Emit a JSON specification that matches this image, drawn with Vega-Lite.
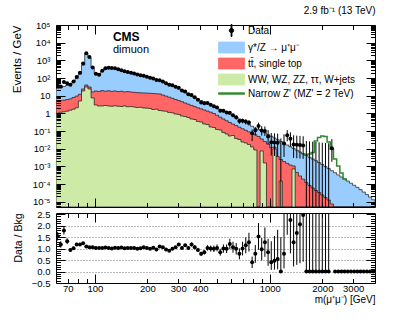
{
"$schema": "https://vega.github.io/schema/vega-lite/v6.json",
"background": "white",
"padding": {"left": 10, "top": 5, "right": 0, "bottom": 0},
"config": {
  "font": "Liberation Sans",
  "view": {"stroke": "black", "strokeWidth": 1},
  "axis": {"domain": false, "grid": false, "tickColor": "black", "tickWidth": 1, "labelColor": "black", "titleColor": "black", "labelFontSize": 9.5, "titleFontSize": 11, "titleFontWeight": "normal", "labelFont": "Liberation Sans", "titleFont": "Liberation Sans"},
  "title": {"font": "Liberation Sans"}
},
"datasets": {"h": [
{"lo":60,"c":61.3,"bk":25.2,"tt":5.13,"ew":1.01,"d":38.8,"r":1.54,"rl":1.35,"rh":1.73},
{"lo":62.57,"c":63.9,"bk":27.9,"tt":5.34,"ew":1.15,"d":32.9,"r":1.18,"rl":1.04,"rh":1.32},
{"lo":65.26,"c":66.6,"bk":33.5,"tt":5.55,"ew":1.22,"d":60.0,"r":1.79,"rl":1.61,"rh":1.97},
{"lo":68.06,"c":69.5,"bk":37.7,"tt":6.0,"ew":1.32,"d":49.8,"r":1.32,"rl":1.19,"rh":1.45},
{"lo":70.98,"c":72.5,"bk":44.7,"tt":6.58,"ew":1.51,"d":42.0,"r":0.94,"rl":0.86,"rh":1.02},
{"lo":74.02,"c":75.6,"bk":63.5,"tt":7.89,"ew":1.72,"d":64.1,"r":1.01,"rl":0.94,"rh":1.08},
{"lo":77.19,"c":78.8,"bk":96.4,"tt":9.47,"ew":2.06,"d":114,"r":1.18,"rl":1.11,"rh":1.25},
{"lo":80.5,"c":82.2,"bk":166,"tt":12.0,"ew":5.0,"d":196,"r":1.18,"rl":1.13,"rh":1.23},
{"lo":83.96,"c":85.7,"bk":545,"tt":24,"ew":18.4,"d":670,"r":1.23,"rl":1.2,"rh":1.26},
{"lo":87.56,"c":89.4,"bk":2290,"tt":40.2,"ew":31.0,"d":2500,"r":1.09,"rl":1.08,"rh":1.1},
{"lo":91.31,"c":93.2,"bk":1450,"tt":31.0,"ew":23.9,"d":1540,"r":1.06,"rl":1.045,"rh":1.075},
{"lo":95.23,"c":97.2,"bk":369,"tt":16.2,"ew":7.39,"d":391,"r":1.06,"rl":1.03,"rh":1.09},
{"lo":99.31,"c":101.4,"bk":169,"tt":18.4,"ew":2.97,"d":174,"r":1.03,"rl":0.99,"rh":1.07},
{"lo":103.57,"c":105.8,"bk":148,"tt":17.3,"ew":2.61,"d":152,"r":1.03,"rl":0.99,"rh":1.07},
{"lo":108.01,"c":110.3,"bk":250,"tt":19.4,"ew":2.61,"d":255,"r":1.02,"rl":0.99,"rh":1.05},
{"lo":112.64,"c":115.0,"bk":345,"tt":17.9,"ew":2.78,"d":362,"r":1.05,"rl":1.025,"rh":1.075},
{"lo":117.47,"c":120.0,"bk":369,"tt":18.9,"ew":2.61,"d":380,"r":1.03,"rl":1.005,"rh":1.055},
{"lo":122.51,"c":125.1,"bk":369,"tt":17.5,"ew":2.51,"d":369,"r":1.0,"rl":0.975,"rh":1.025},
{"lo":127.76,"c":130.5,"bk":341,"tt":18.4,"ew":2.67,"d":355,"r":1.04,"rl":1.015,"rh":1.065},
{"lo":133.24,"c":136.1,"bk":307,"tt":17.0,"ew":2.54,"d":313,"r":1.02,"rl":0.995,"rh":1.045},
{"lo":138.95,"c":141.9,"bk":266,"tt":17.7,"ew":2.44,"d":279,"r":1.05,"rl":1.025,"rh":1.075},
{"lo":144.91,"c":148.0,"bk":237,"tt":16.4,"ew":2.61,"d":239,"r":1.01,"rl":0.985,"rh":1.035},
{"lo":151.12,"c":154.3,"bk":213,"tt":17.0,"ew":2.35,"d":219,"r":1.03,"rl":1.005,"rh":1.055},
{"lo":157.6,"c":160.9,"bk":195,"tt":16.2,"ew":2.41,"d":201,"r":1.03,"rl":1.0,"rh":1.06},
{"lo":164.36,"c":167.8,"bk":175,"tt":15.5,"ew":2.29,"d":179,"r":1.02,"rl":0.99,"rh":1.05},
{"lo":171.41,"c":175.0,"bk":160,"tt":14.9,"ew":2.14,"d":158,"r":0.99,"rl":0.96,"rh":1.02},
{"lo":178.76,"c":182.6,"bk":142,"tt":14.5,"ew":2.2,"d":143,"r":1.01,"rl":0.98,"rh":1.04},
{"lo":186.42,"c":190.4,"bk":127,"tt":14.2,"ew":2.01,"d":135,"r":1.06,"rl":1.03,"rh":1.09},
{"lo":194.41,"c":198.5,"bk":116,"tt":14.0,"ew":1.96,"d":118,"r":1.02,"rl":0.99,"rh":1.05},
{"lo":202.75,"c":207.0,"bk":104,"tt":13.6,"ew":1.88,"d":103,"r":0.99,"rl":0.96,"rh":1.02},
{"lo":211.44,"c":215.9,"bk":90.2,"tt":13.3,"ew":1.65,"d":93.8,"r":1.04,"rl":1.01,"rh":1.07},
{"lo":220.51,"c":225.2,"bk":79.2,"tt":12.8,"ew":1.72,"d":76.0,"r":0.96,"rl":0.92,"rh":1.0},
{"lo":229.96,"c":234.8,"bk":68.7,"tt":12.5,"ew":1.45,"d":74.9,"r":1.09,"rl":1.05,"rh":1.13},
{"lo":239.82,"c":244.9,"bk":59.4,"tt":10.9,"ew":1.36,"d":63.0,"r":1.06,"rl":1.02,"rh":1.1},
{"lo":250.11,"c":255.4,"bk":52.2,"tt":9.47,"ew":1.31,"d":50.1,"r":0.96,"rl":0.92,"rh":1.0},
{"lo":260.83,"c":266.4,"bk":45.8,"tt":8.2,"ew":1.12,"d":41.7,"r":0.91,"rl":0.87,"rh":0.95},
{"lo":272.02,"c":277.8,"bk":38.7,"tt":7.11,"ew":1.07,"d":38.3,"r":0.99,"rl":0.94,"rh":1.04},
{"lo":283.68,"c":289.7,"bk":29.8,"tt":6.08,"ew":0.92,"d":31.6,"r":1.06,"rl":1.01,"rh":1.11},
{"lo":295.84,"c":302.1,"bk":23.9,"tt":5.27,"ew":0.861,"d":28.2,"r":1.18,"rl":1.12,"rh":1.24},
{"lo":308.53,"c":315.1,"bk":18.9,"tt":4.57,"ew":0.708,"d":19.5,"r":1.03,"rl":0.97,"rh":1.09},
{"lo":321.76,"c":328.6,"bk":14.9,"tt":3.86,"ew":0.663,"d":17.0,"r":1.14,"rl":1.07,"rh":1.21},
{"lo":335.55,"c":342.7,"bk":11.8,"tt":3.3,"ew":0.582,"d":12.2,"r":1.03,"rl":0.95,"rh":1.11},
{"lo":349.94,"c":357.4,"bk":9.35,"tt":2.82,"ew":0.48,"d":11.0,"r":1.18,"rl":1.09,"rh":1.27},
{"lo":364.95,"c":372.7,"bk":7.59,"tt":2.41,"ew":0.449,"d":8.05,"r":1.06,"rl":0.97,"rh":1.15},
{"lo":380.6,"c":388.7,"bk":6.32,"tt":2.06,"ew":0.346,"d":5.94,"r":0.94,"rl":0.85,"rh":1.03},
{"lo":396.92,"c":405.3,"bk":5.34,"tt":1.79,"ew":0.324,"d":4.11,"r":0.77,"rl":0.68,"rh":0.86},
{"lo":413.94,"c":422.7,"bk":4.45,"tt":1.55,"ew":0.25,"d":3.74,"r":0.84,"rl":0.74,"rh":0.94},
{"lo":431.69,"c":440.9,"bk":3.71,"tt":1.34,"ew":0.234,"d":3.82,"r":1.03,"rl":0.91,"rh":1.15},
{"lo":450.2,"c":459.8,"bk":3.09,"tt":1.16,"ew":0.169,"d":3.09,"r":1.0,"rl":0.87,"rh":1.13},
{"lo":469.5,"c":479.5,"bk":2.54,"tt":0.982,"ew":0.158,"d":2.51,"r":0.99,"rl":0.85,"rh":1.13},
{"lo":489.63,"c":500.0,"bk":2.06,"tt":0.776,"ew":0.122,"d":2.12,"dl":1.8,"dh":2.44,"r":1.03,"rl":0.88,"rh":1.18},
{"lo":510.62,"c":521.5,"bk":1.69,"tt":0.606,"ew":0.114,"d":1.42,"dl":1.16,"dh":1.68,"r":0.84,"rl":0.69,"rh":0.99},
{"lo":532.52,"c":543.8,"bk":1.38,"tt":0.48,"ew":0.0825,"d":1.38,"dl":1.13,"dh":1.63,"r":1.0,"rl":0.82,"rh":1.18},
{"lo":555.35,"c":567.1,"bk":1.12,"tt":0.379,"ew":0.0679,"d":1.11,"dl":0.894,"dh":1.33,"r":0.99,"rl":0.8,"rh":1.18},
{"lo":579.17,"c":591.5,"bk":0.907,"tt":0.304,"ew":0.0523,"d":1.09,"dl":0.883,"dh":1.3,"r":1.2,"rl":0.97,"rh":1.43},
{"lo":604.0,"c":616.8,"bk":0.736,"tt":0.247,"ew":0.0558,"d":0.78,"dl":0.608,"dh":0.952,"r":1.06,"rl":0.82,"rh":1.3},
{"lo":629.9,"c":643.3,"bk":0.598,"tt":0.203,"ew":0.0378,"d":0.592,"dl":0.444,"dh":0.74,"r":0.99,"rl":0.74,"rh":1.24},
{"lo":656.91,"c":670.9,"bk":0.48,"tt":0.165,"ew":0.0331,"d":0.37,"dl":0.255,"dh":0.485,"r":0.77,"rl":0.53,"rh":1.01},
{"lo":685.08,"c":699.6,"bk":0.384,"tt":0.134,"ew":0.0239,"d":0.384,"dl":0.269,"dh":0.499,"r":1.0,"rl":0.7,"rh":1.3},
{"lo":714.45,"c":729.6,"bk":0.3,"tt":0.11,"ew":0.021,"d":0.342,"dl":0.236,"dh":0.448,"r":1.14,"rl":0.79,"rh":1.49},
{"lo":745.09,"c":760.9,"bk":0.234,"tt":0.0893,"ew":0.0173,"d":0.3,"dl":0.204,"dh":0.396,"r":1.28,"rl":0.87,"rh":1.69},
{"lo":777.04,"c":793.5,"bk":0.185,"tt":0.0734,"ew":0.0125,"d":0.074,"dl":0.027,"dh":0.121,"r":0.4,"rl":0.15,"rh":0.65},
{"lo":810.36,"c":827.6,"bk":0.144,"tt":0.062,"ew":0.00844,"d":0.111,"dl":0.055,"dh":0.167,"r":0.77,"rl":0.38,"rh":1.16},
{"lo":845.1,"c":863.0,"bk":0.124,"tt":0.049,"ew":1e-9,"d":0.193,"dl":0.126,"dh":0.297,"r":1.53,"rl":0.95,"rh":2.11},
{"lo":881.34,"c":900.0,"bk":0.1,"tt":0.0354,"ew":0.0074,"d":0.106,"dl":0.0553,"dh":0.189,"r":0.97,"rl":0.48,"rh":1.46},
{"lo":919.13,"c":938.6,"bk":0.0798,"tt":0.0255,"ew":0.00155,"d":0.1015,"dl":0.053,"dh":0.182,"r":1.28,"rl":0.64,"rh":1.92},
{"lo":958.54,"c":978.9,"bk":0.0635,"tt":0.0184,"ew":1e-9,"d":0.0487,"dl":0.0172,"dh":0.113,"r":0.84,"rl":0.25,"rh":1.43},
{"lo":999.64,"c":1020.9,"bk":0.0509,"tt":0.0117,"ew":1e-9,"d":0.0233,"dl":0.00404,"dh":0.077,"r":0.4,"rl":0.069,"rh":1.32},
{"lo":1042.5,"c":1064.6,"bk":0.0403,"tt":0.0125,"ew":0.00962,"d":0.0224,"dl":0.00387,"dh":0.0738,"r":0.47,"rl":0.081,"rh":1.55},
{"lo":1087.2,"c":1110.3,"bk":0.0323,"tt":0.00362,"ew":1e-9,"d":0.0214,"dl":0.0037,"dh":0.0707,"r":0.55,"rl":0.095,"rh":1.82},
{"lo":1133.9,"c":1157.9,"bk":0.0255,"tt":0.00244,"ew":0.000148,"dl":1e-9,"dh":0.0379,"r":0,"rl":0,"rh":1.5},
{"lo":1182.5,"c":1207.6,"bk":0.0202,"tt":0.00188,"ew":1e-9,"d":0.0197,"dl":0.00341,"dh":0.0651,"r":0.77,"rl":0.133,"rh":2.54},
{"lo":1233.2,"c":1259.4,"bk":0.0162,"tt":0.00149,"ew":1e-9,"d":0.0567,"dl":0.0259,"dh":0.112,"r":3.5,"rl":1.6,"rh":6.9},
{"lo":1286.1,"c":1313.4,"bk":0.0128,"tt":0.00119,"ew":1e-9,"d":0.0363,"dl":0.0128,"dh":0.0842,"r":2.24,"rl":0.79,"rh":5.2},
{"lo":1341.2,"c":1369.7,"bk":0.0103,"tt":0.00105,"ew":0.00071,"d":0.0174,"dl":0.00301,"dh":0.0574,"r":1.28,"rl":0.22,"rh":4.2},
{"lo":1398.7,"c":1428.4,"bk":0.00822,"tt":0.00045,"ew":1e-9,"d":0.0167,"dl":0.00288,"dh":0.055,"r":1.68,"rl":0.29,"rh":5.5},
{"lo":1458.7,"c":1489.7,"bk":0.0065,"tt":0.000285,"ew":1e-9,"d":0.016,"dl":0.00277,"dh":0.0528,"r":2.06,"rl":0.36,"rh":6.8},
{"lo":1521.2,"c":1553.5,"bk":0.00514,"tt":0.000188,"ew":1e-9,"d":0.0153,"dl":0.00265,"dh":0.0505,"r":2.46,"rl":0.43,"rh":8.1,"zp":0.00514},
{"lo":1586.5,"c":1620.2,"bk":0.00412,"tt":0.000122,"ew":1e-9,"dl":1e-9,"dh":0.0271,"r":0,"rl":0,"rh":10,"zp":0.0044},
{"lo":1654.5,"c":1689.6,"bk":0.00326,"tt":8.26e-5,"ew":1e-9,"dl":1e-9,"dh":0.0259,"r":0,"rl":0,"rh":10,"zp":0.00501},
{"lo":1725.5,"c":1762.1,"bk":0.00261,"tt":5.97e-5,"ew":1e-9,"dl":1e-9,"dh":0.0249,"r":0,"rl":0,"rh":10,"zp":0.0061},
{"lo":1799.5,"c":1837.7,"bk":0.00207,"tt":4.31e-5,"ew":1e-9,"dl":1e-9,"dh":0.0239,"r":0,"rl":0,"rh":10,"zp":0.0272},
{"lo":1876.6,"c":1916.4,"bk":0.00163,"tt":3.32e-5,"ew":1e-9,"dl":1e-9,"dh":0.0229,"r":0,"rl":0,"rh":10,"zp":0.043},
{"lo":1957.1,"c":1998.7,"bk":0.00128,"tt":2.4e-5,"ew":1e-9,"dl":1e-9,"dh":0.0219,"r":0,"rl":0,"rh":10,"zp":0.0523},
{"lo":2041.0,"c":2084.3,"bk":0.00097,"tt":1.73e-5,"ew":1e-9,"dl":1e-9,"dh":0.021,"r":0,"rl":0,"rh":10,"zp":0.049},
{"lo":2128.5,"c":2173.7,"bk":0.000748,"tt":1.25e-5,"ew":1e-9,"dl":1e-9,"dh":0.0202,"r":0,"rl":0,"rh":10,"zp":0.0239},
{"lo":2219.8,"c":2266.9,"bk":0.000569,"tt":7.4e-6,"ew":1e-9,"d":0.0105,"dl":0.00182,"dh":0.0347,"zp":0.00962},
{"lo":2315.0,"c":2364.2,"bk":0.000433,"tt":1e-9,"ew":1e-9,"r":0,"zp":0.00261},
{"lo":2414.2,"c":2465.5,"bk":0.000329,"tt":1e-9,"ew":1e-9,"r":0,"zp":0.00105},
{"lo":2517.8,"c":2571.2,"bk":0.00025,"tt":1e-9,"ew":1e-9,"r":0,"zp":0.000421},
{"lo":2625.7,"c":2681.4,"bk":0.00019,"tt":1e-9,"ew":1e-9,"r":0,"zp":0.00019},
{"lo":2738.3,"c":2796.4,"bk":0.000147,"tt":1e-9,"ew":1e-9,"r":0,"zp":0.000147},
{"lo":2855.7,"c":2916.3,"bk":0.000111,"tt":1e-9,"ew":1e-9,"r":0},
{"lo":2978.2,"c":3041.4,"bk":8.49e-5,"tt":1e-9,"ew":1e-9,"r":0},
{"lo":3105.9,"c":3171.8,"bk":6.45e-5,"tt":1e-9,"ew":1e-9,"r":0},
{"lo":3239.1,"c":3307.8,"bk":4.84e-5,"tt":1e-9,"ew":1e-9,"r":0},
{"lo":3377.9,"c":3449.6,"bk":3.5e-5,"tt":1e-9,"ew":1e-9,"r":0},
{"lo":3522.8,"c":3597.5,"bk":2.52e-5,"tt":1e-9,"ew":1e-9,"r":0},
{"lo":3673.8,"c":3751.8,"bk":1.8e-5,"tt":1e-9,"ew":1e-9,"r":0},
{"lo":3831.4,"c":3912.6,"bk":1.28e-5,"tt":1e-9,"ew":1e-9,"r":0},
{"lo":4000,"bk":1.28e-5,"tt":1e-9,"ew":1e-9}
]},
"resolve": {"scale": {"color": "independent"}},
"spacing": 6,
"bounds": "flush",
"vconcat": [
{
  "width": 319, "height": 182,
  "title": {"text": "2.9 fb⁻¹ (13 TeV)", "anchor": "end", "fontSize": 10, "fontWeight": "normal", "offset": 4, "color": "black"},
  "data": {"name": "h"},
  "resolve": {"axis": {"x": "independent", "y": "independent"}},
  "layer": [
    {
      "mark": {"type": "area", "interpolate": "step-after", "clip": true, "stroke": "#1a1a1a", "strokeWidth": 0.7},
      "encoding": {
        "x": {"field": "lo", "type": "quantitative", "scale": {"type": "log", "domain": [60, 4000], "nice": false},
          "axis": {"orient": "bottom", "zindex": 1, "values": [70,80,90,100,200,300,400,500,600,700,800,900,1000,2000,3000], "labels": false, "title": null, "minExtent": 0, "maxExtent": 0,
            "tickSize": {"condition": {"test": "datum.value == 100 || datum.value == 1000", "value": -9}, "value": -4.5}}},
        "y": {"field": "bk", "type": "quantitative", "stack": null, "scale": {"type": "log", "domain": [5e-6, 100000], "nice": false},
          "axis": {"orient": "left", "zindex": 1, "values": [6e-6,7e-6,8e-6,9e-6,1e-5,2e-5,3e-5,4e-5,5e-5,6e-5,7e-5,8e-5,9e-5,1e-4,2e-4,3e-4,4e-4,5e-4,6e-4,7e-4,8e-4,9e-4,0.001,0.002,0.003,0.004,0.005,0.006,0.007,0.008,0.009,0.01,0.02,0.03,0.04,0.05,0.06,0.07,0.08,0.09,0.1,0.2,0.3,0.4,0.5,0.6,0.7,0.8,0.9,1,2,3,4,5,6,7,8,9,10,20,30,40,50,60,70,80,90,100,200,300,400,500,600,700,800,900,1000,2000,3000,4000,5000,6000,7000,8000,9000,10000,20000,30000,40000,50000,60000,70000,80000,90000,100000],
            "title": "Events / GeV", "titleFontSize": 11.5, "titleAnchor": "end", "titlePadding": 10, "labelOverlap": false,
            "tickSize": {"condition": {"test": "abs(datum.value / pow(10, round(log(datum.value) / LN10)) - 1) < 1e-6", "value": -9}, "value": -4.5},
            "labelPadding": 15,
            "labelExpr": "abs(datum.value / pow(10, round(log(datum.value) / LN10)) - 1) > 1e-6 ? '' : (round(log(datum.value) / LN10) == 0 ? '1' : (round(log(datum.value) / LN10) == 1 ? '10' : '10' + ['⁻⁵','⁻⁴','⁻³','⁻²','⁻¹','⁰','¹','²','³','⁴','⁵'][round(log(datum.value) / LN10) + 5]))"}},
        "color": {"datum": "γ*/Z → μ⁺μ⁻",
          "scale": {"domain": ["Data", "γ*/Z → μ⁺μ⁻", "tt̄, single top", "WW, WZ, ZZ, ττ, W+jets", "Narrow Z' (MZ' = 2 TeV)"], "range": ["#000000", "#99ccff", "#ff6666", "#cdeaa7", "#2b8a2b"]},
          "legend": {"orient": "none", "legendX": 170, "legendY": 0, "title": null, "labelFontSize": 10, "labelFont": "Liberation Sans", "labelColor": "black", "symbolSize": 100, "labelOffset": 11, "rowPadding": 1,
            "symbolType": {"expr": "datum.value === 'Data' ? 'M-0.45,0A0.45,0.45,0,1,1,0.45,0A0.45,0.45,0,1,1,-0.45,0ZM-0.1,-1.2H0.1V1.2H-0.1Z' : (indexof(datum.value, 'Narrow') === 0 ? 'M-2.6,-0.15H2.6V0.15H-2.6Z' : 'M-2.6,-1.1H2.6V1.1H-2.6Z')"},
            "symbolStrokeColor": {"expr": "indexof(datum.value, 'Narrow') === 0 ? '#2b8a2b' : '#1a1a1a'"},
            "symbolStrokeWidth": 0.8, "symbolOpacity": 1}}
      }
    },
    {
      "mark": {"type": "area", "interpolate": "step-after", "clip": true, "stroke": "#1a1a1a", "strokeWidth": 0.7},
      "encoding": {
        "x": {"field": "lo", "type": "quantitative",
          "axis": {"orient": "top", "zindex": 1, "values": [70,80,90,100,200,300,400,500,600,700,800,900,1000,2000,3000], "labels": false, "title": null, "minExtent": 0, "maxExtent": 0,
            "tickSize": {"condition": {"test": "datum.value == 100 || datum.value == 1000", "value": -9}, "value": -4.5}}},
        "y": {"field": "tt", "type": "quantitative", "stack": null,
          "axis": {"orient": "right", "zindex": 1, "values": [6e-6,7e-6,8e-6,9e-6,1e-5,2e-5,3e-5,4e-5,5e-5,6e-5,7e-5,8e-5,9e-5,1e-4,2e-4,3e-4,4e-4,5e-4,6e-4,7e-4,8e-4,9e-4,0.001,0.002,0.003,0.004,0.005,0.006,0.007,0.008,0.009,0.01,0.02,0.03,0.04,0.05,0.06,0.07,0.08,0.09,0.1,0.2,0.3,0.4,0.5,0.6,0.7,0.8,0.9,1,2,3,4,5,6,7,8,9,10,20,30,40,50,60,70,80,90,100,200,300,400,500,600,700,800,900,1000,2000,3000,4000,5000,6000,7000,8000,9000,10000,20000,30000,40000,50000,60000,70000,80000,90000,100000],
            "labels": false, "title": null, "minExtent": 0, "maxExtent": 0,
            "tickSize": {"condition": {"test": "abs(datum.value / pow(10, round(log(datum.value) / LN10)) - 1) < 1e-6", "value": -9}, "value": -4.5}}},
        "color": {"datum": "tt̄, single top"}
      }
    },
    {
      "mark": {"type": "area", "interpolate": "step-after", "clip": true, "stroke": "#1a1a1a", "strokeWidth": 0.7},
      "encoding": {
        "x": {"field": "lo", "type": "quantitative", "axis": null},
        "y": {"field": "ew", "type": "quantitative", "stack": null, "axis": null},
        "color": {"datum": "WW, WZ, ZZ, ττ, W+jets"}
      }
    },
    {
      "transform": [{"filter": "isValid(datum.zp)"}],
      "mark": {"type": "line", "interpolate": "step-after", "clip": true, "strokeWidth": 1.5},
      "encoding": {
        "x": {"field": "lo", "type": "quantitative", "axis": null},
        "y": {"field": "zp", "type": "quantitative", "axis": null},
        "color": {"datum": "Narrow Z' (MZ' = 2 TeV)"}
      }
    },
    {
      "transform": [{"filter": "isValid(datum.dh)"}],
      "mark": {"type": "rule", "clip": true, "color": "black", "strokeWidth": 1},
      "encoding": {
        "x": {"field": "c", "type": "quantitative", "axis": null},
        "y": {"field": "dl", "type": "quantitative", "axis": null},
        "y2": {"field": "dh"}
      }
    },
    {
      "transform": [{"filter": "isValid(datum.d)"}],
      "mark": {"type": "point", "filled": true, "size": 16, "opacity": 1, "clip": true},
      "encoding": {
        "x": {"field": "c", "type": "quantitative", "axis": null},
        "y": {"field": "d", "type": "quantitative", "axis": null},
        "color": {"datum": "Data"}
      }
    },
    {
      "data": {"values": [{}]},
      "mark": {"type": "text", "text": "CMS", "align": "left", "baseline": "middle", "fontSize": 12, "fontWeight": "bold", "font": "Liberation Sans", "color": "black"},
      "encoding": {"x": {"datum": 127, "type": "quantitative", "axis": null}, "y": {"datum": 21000, "type": "quantitative", "axis": null}}
    },
    {
      "data": {"values": [{}]},
      "mark": {"type": "text", "text": "dimuon", "align": "left", "baseline": "middle", "fontSize": 11, "font": "Liberation Sans", "color": "black"},
      "encoding": {"x": {"datum": 127, "type": "quantitative", "axis": null}, "y": {"datum": 3900, "type": "quantitative", "axis": null}}
    }
  ]
},
{
  "width": 319, "height": 70,
  "data": {"name": "h"},
  "resolve": {"axis": {"x": "independent", "y": "independent"}},
  "layer": [
    {
      "transform": [{"filter": "isValid(datum.r)"}],
      "mark": {"type": "point", "filled": true, "size": 0, "opacity": 0},
      "encoding": {
        "x": {"field": "c", "type": "quantitative", "scale": {"type": "log", "domain": [60, 4000], "nice": false}, "axis": null},
        "y": {"field": "r", "type": "quantitative", "scale": {"domain": [-0.5, 2.55], "nice": false, "zero": false},
          "axis": {"orient": "right", "values": [0, 0.5, 1, 1.5, 2], "labels": false, "ticks": false, "title": null, "grid": true, "gridColor": "#555555", "gridDash": [1, 2], "gridWidth": 0.8, "minExtent": 0, "maxExtent": 0}}
      }
    },
    {
      "transform": [{"filter": "isValid(datum.rh)"}],
      "mark": {"type": "rule", "clip": true, "color": "black", "strokeWidth": 1},
      "encoding": {
        "x": {"field": "c", "type": "quantitative",
          "axis": {"orient": "bottom", "zindex": 1, "values": [70,80,90,100,200,300,400,500,600,700,800,900,1000,2000,3000], "title": "m(μ⁺μ⁻) [GeV]", "titleAnchor": "end", "titleFontSize": 10, "titlePadding": 2, "labelOverlap": false,
            "tickSize": {"condition": {"test": "datum.value == 100 || datum.value == 1000", "value": -9}, "value": -4.5},
            "labelPadding": {"condition": {"test": "datum.value == 100 || datum.value == 1000", "value": 9}, "value": 4.5},
            "labelExpr": "indexof([70,100,200,300,400,1000,2000,3000], datum.value) >= 0 ? format(datum.value, 'd') : ''"}},
        "y": {"field": "rl", "type": "quantitative",
          "axis": {"orient": "left", "zindex": 1, "values": [-0.5,-0.4,-0.3,-0.2,-0.1,0,0.1,0.2,0.3,0.4,0.5,0.6,0.7,0.8,0.9,1,1.1,1.2,1.3,1.4,1.5,1.6,1.7,1.8,1.9,2,2.1,2.2,2.3,2.4,2.5],
            "title": "Data / Bkg", "titleFontSize": 10.5, "titleAnchor": "end", "titlePadding": 8, "labelOverlap": false,
            "tickSize": {"condition": {"test": "abs(datum.value * 2 - round(datum.value * 2)) < 1e-6", "value": -9}, "value": -4.5},
            "labelPadding": 15,
            "labelExpr": "abs(datum.value * 2 - round(datum.value * 2)) < 1e-6 ? format(datum.value, '.1f') : ''"}},
        "y2": {"field": "rh"}
      }
    },
    {
      "transform": [{"filter": "isValid(datum.r)"}],
      "mark": {"type": "point", "filled": true, "size": 16, "color": "black", "opacity": 1, "clip": true},
      "encoding": {
        "x": {"field": "c", "type": "quantitative",
          "axis": {"orient": "top", "zindex": 1, "values": [70,80,90,100,200,300,400,500,600,700,800,900,1000,2000,3000], "labels": false, "title": null, "minExtent": 0, "maxExtent": 0,
            "tickSize": {"condition": {"test": "datum.value == 100 || datum.value == 1000", "value": -9}, "value": -4.5}}},
        "y": {"field": "r", "type": "quantitative",
          "axis": {"orient": "right", "zindex": 1, "values": [-0.5,-0.4,-0.3,-0.2,-0.1,0,0.1,0.2,0.3,0.4,0.5,0.6,0.7,0.8,0.9,1,1.1,1.2,1.3,1.4,1.5,1.6,1.7,1.8,1.9,2,2.1,2.2,2.3,2.4,2.5],
            "labels": false, "title": null, "minExtent": 0, "maxExtent": 0,
            "tickSize": {"condition": {"test": "abs(datum.value * 2 - round(datum.value * 2)) < 1e-6", "value": -9}, "value": -4.5}}}
      }
    }
  ]
}
]
}
